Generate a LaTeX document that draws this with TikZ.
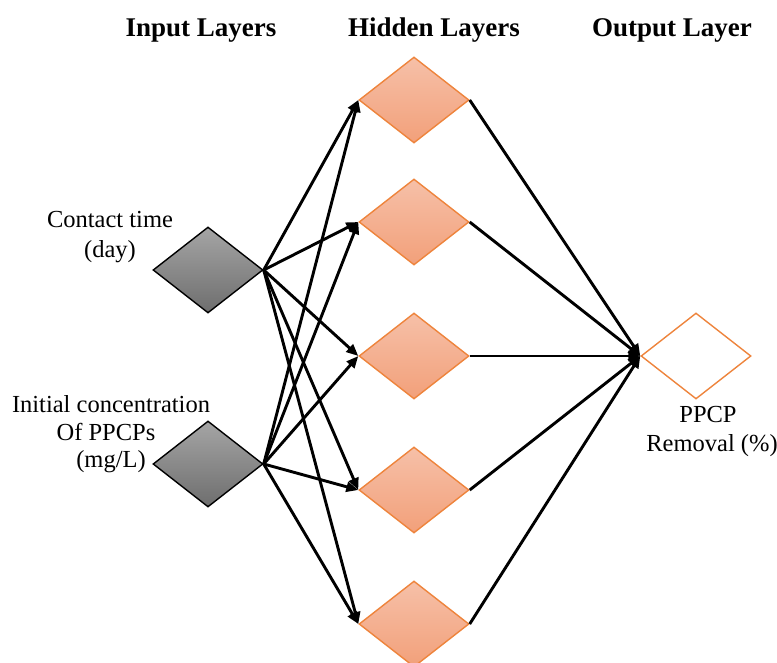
\documentclass[tikz,border=0pt]{standalone}
\usepackage{fontspec}
\setmainfont{Liberation Serif}
\usetikzlibrary{shapes.geometric,arrows.meta}
\definecolor{orangeline}{RGB}{238,132,60}
\definecolor{orangetop}{RGB}{246,192,168}
\definecolor{orangebot}{RGB}{242,160,122}
\definecolor{graytop}{RGB}{165,165,165}
\definecolor{graybot}{RGB}{110,110,110}
\tikzset{
  dia/.style={diamond, minimum width=110pt, minimum height=86pt, inner sep=0pt},
  inbox/.style={dia, draw=black, line width=1.4pt, top color=graytop, bottom color=graybot},
  hidbox/.style={dia, draw=orangeline, line width=1.4pt, top color=orangetop, bottom color=orangebot},
  outbox/.style={dia, draw=orangeline, line width=1.4pt, fill=white},
  conn/.style={line width=2.9pt, -{Triangle[length=12pt,width=10pt]}},
  title/.style={font=\fontsize{27}{32}\selectfont\bfseries, anchor=base},
  lab/.style={font=\fontsize{24.5}{29}\selectfont, align=center, anchor=base}
}
\begin{document}
\begin{tikzpicture}[x=1pt,y=-1pt]
\useasboundingbox (0,0) rectangle (777,663);
% titles
\node[title] (t1) at (201,37) {Input Layers};
\node[title] (t2) at (434,37) {Hidden Layers};
\node[title] (t3) at (672,37) {Output Layer};
% diamonds
\node[inbox] (in1) at (208,270) {};
\node[inbox] (in2) at (208,464) {};
\node[hidbox] (h1) at (414,100) {};
\node[hidbox] (h2) at (414,222) {};
\node[hidbox] (h3) at (414,356) {};
\node[hidbox] (h4) at (414,490) {};
\node[hidbox] (h5) at (414,624) {};
\node[outbox] (out) at (696,356) {};
% labels
\node[lab] (l1a) at (110,228) {Contact time};
\node[lab] (l1b) at (110,258) {(day)};
\node[lab] (l2a) at (111,412) {Initial concentration};
\node[lab] (l2b) at (106,440) {Of PPCPs};
\node[lab] (l2c) at (111,467) {(mg/L)};
\node[lab] (l3a) at (708,422) {PPCP};
\node[lab] (l3b) at (712,451) {Removal (\%)};
% connectors
\foreach \h in {h1,h2,h3,h4,h5}{
  \draw[conn] (in1.east) -- (\h.west);
  \draw[conn] (in2.east) -- (\h.west);
  \draw[conn] (\h.east) -- (out.west);
}
\end{tikzpicture}
\end{document}
